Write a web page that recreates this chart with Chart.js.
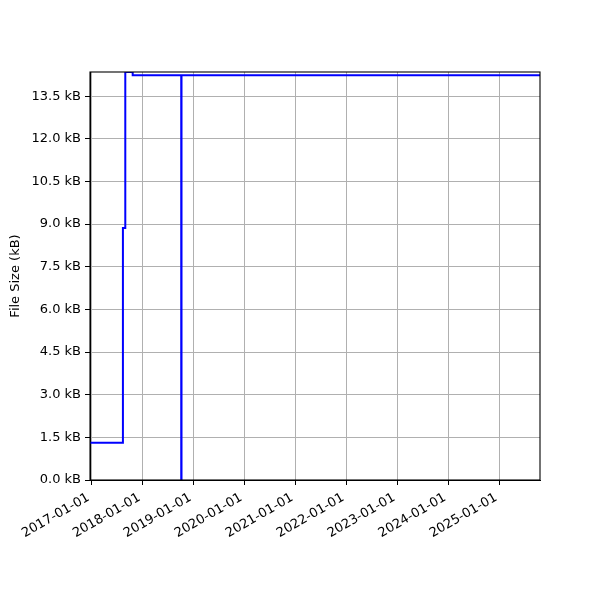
<!DOCTYPE html>
<html>
<head>
<meta charset="utf-8">
<script src="https://cdn.jsdelivr.net/npm/chart.js@4/dist/chart.umd.min.js"></script>
<style>
  html, body { margin: 0; padding: 0; background: #fff; }
  #wrap { width: 600px; height: 600px; }
</style>
</head>
<body>
<div id="wrap"><canvas id="sizeChart" width="600" height="600"></canvas></div>
<script>
// Data (step changes, held until the next date)
const changeDates = ['2016-12-21', '2017-08-14', '2017-08-31', '2017-10-23', '2018-10-06', '2018-10-08', '2025-10-21'];
const fileSizes = [1.31, 8.86, 14.35, 14.24, 0, 14.24, 14.24];
const xTickDates = ['2017-01-01', '2018-01-01', '2019-01-01', '2020-01-01', '2021-01-01',
                    '2022-01-01', '2023-01-01', '2024-01-01', '2025-01-01'];
const yTickValues = [0, 1.5, 3, 4.5, 6, 7.5, 9, 10.5, 12, 13.5];

function toMs(d) { return Date.parse(d + 'T00:00:00Z'); }
function fmtDate(ms) { return new Date(ms).toISOString().slice(0, 10); }

const points = changeDates.map((d, i) => ({ x: toMs(d), y: fileSizes[i] }));
const font = { family: 'DejaVu Sans', size: 13 };

// Draw the full black frame around the plot area
const framePlugin = {
  id: 'frame',
  afterDraw(chart) {
    const a = chart.chartArea, ctx = chart.ctx;
    ctx.save();
    ctx.strokeStyle = '#000';
    ctx.lineWidth = 1.1;
    ctx.strokeRect(a.left, a.top, a.right - a.left, a.bottom - a.top);
    ctx.restore();
  }
};

new Chart(document.getElementById('sizeChart').getContext('2d'), {
  type: 'line',
  data: {
    datasets: [{
      label: 'File Size',
      data: points,
      borderColor: '#0000ff',
      borderWidth: 2,
      pointRadius: 0,
      stepped: 'before',
      fill: false
    }]
  },
  options: {
    responsive: false,
    animation: false,
    layout: { padding: { top: 72, right: 60, left: 0, bottom: 0 } },
    plugins: { legend: { display: false }, tooltip: { enabled: false } },
    scales: {
      x: {
        type: 'linear',
        min: toMs(changeDates[0]),
        max: toMs(changeDates[changeDates.length - 1]),
        afterBuildTicks: scale => { scale.ticks = xTickDates.map(d => ({ value: toMs(d) })); },
        afterFit: scale => { scale.height = 120; },
        grid: { color: '#b0b0b0', tickColor: '#000', tickLength: 5, lineWidth: 1 },
        border: { color: '#000', width: 1 },
        ticks: {
          color: '#000', font: font, padding: 5, labelOffset: -3,
          maxRotation: 30, minRotation: 30,
          autoSkip: false,
          callback: v => fmtDate(v)
        }
      },
      y: {
        min: 0,
        max: 14.35,
        afterBuildTicks: scale => { scale.ticks = yTickValues.map(v => ({ value: v })); },
        afterFit: scale => { scale.width = 90; },
        grid: { color: '#b0b0b0', tickColor: '#000', tickLength: 5, lineWidth: 1 },
        border: { color: '#000', width: 1 },
        title: { display: true, text: 'File Size (kB)', color: '#000', font: font, padding: { top: 8, bottom: 4 } },
        ticks: {
          color: '#000', font: font, padding: 4,
          callback: v => v.toFixed(1) + ' kB'
        }
      }
    }
  },
  plugins: [framePlugin]
});
</script>
</body>
</html>
